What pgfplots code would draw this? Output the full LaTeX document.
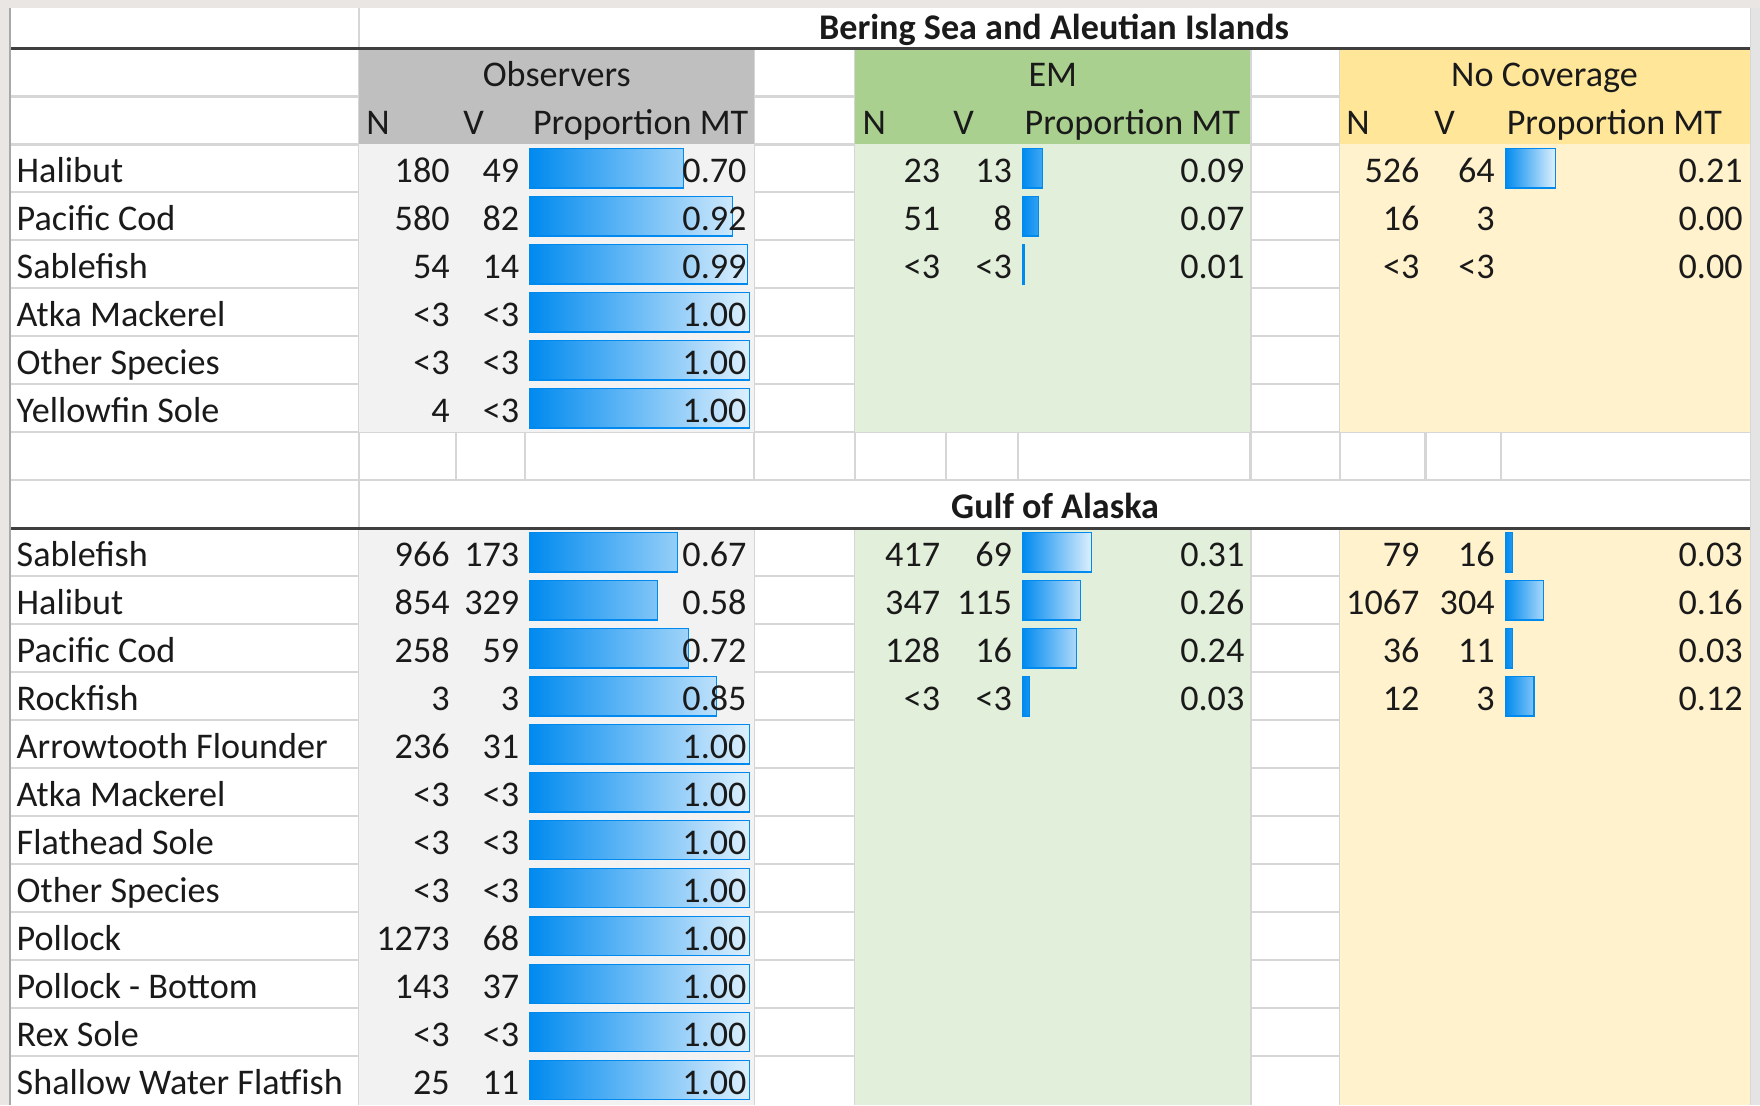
\documentclass[border=0pt]{standalone}
\usepackage{pgfplots}
\pgfplotsset{compat=1.18}
\usepackage{fontspec}
\setmainfont{Carlito}
\definecolor{bgtop}{HTML}{EAE6E3}
\definecolor{bgside}{HTML}{E4E4E4}
\definecolor{obshead}{HTML}{BFBFBF}
\definecolor{obsbody}{HTML}{F2F2F2}
\definecolor{emhead}{HTML}{A9D08E}
\definecolor{embody}{HTML}{E2EFDA}
\definecolor{nchead}{HTML}{FFE699}
\definecolor{ncbody}{HTML}{FFF2CC}
\definecolor{gridc}{HTML}{D6D6D6}
\definecolor{thickc}{HTML}{3F3F3F}
\definecolor{edgec}{HTML}{A8A8A8}
\definecolor{barblue}{HTML}{008AEF}
\definecolor{txt}{HTML}{1A1A1A}

\pgfplotsset{
  sheet/.style={scale only axis, anchor=south west,
    ymin=-1.5088, ymax=21.5088, y dir=reverse, hide axis, clip=false,
    height=492pt},
  bars/.style={xbar, bar width=17.5pt, draw=barblue, line width=0.6pt,
    left color=barblue, right color=barblue!13!white}
}

\newcommand{\Lt}[3]{\node[anchor=base west,inner sep=0pt,yshift=-6.45pt] at (axis cs:#1,#2) {#3};}
\newcommand{\Rt}[3]{\node[anchor=base east,inner sep=0pt,yshift=-6.45pt] at (axis cs:#1,#2) {#3};}
\newcommand{\Obs}[5]{\Lt{14.5}{#1}{#2}\Rt{401}{#1}{#3}\Rt{463}{#1}{#4}\Rt{665.5}{#1}{#5}}
\newcommand{\EMr}[4]{\Rt{838}{#1}{#2}\Rt{902}{#1}{#3}\Rt{1109}{#1}{#4}}
\newcommand{\NCr}[4]{\Rt{1265}{#1}{#2}\Rt{1332}{#1}{#3}\Rt{1553}{#1}{#4}}
\newcommand{\lt}{\textless{}3}

\begin{document}
\fontsize{16.1}{19}\selectfont
\begin{tikzpicture}
% ---------- background, grid and fills ----------
\begin{axis}[sheet, at={(0pt,0pt)}, width=784pt, xmin=0, xmax=1568]
  \fill[bgtop] (axis cs:0,-1.5088) rectangle (axis cs:1568,21.5088);
  \fill[bgside] (axis cs:1559,-1.333) rectangle (axis cs:1568,21.5088);
  \fill[white] (axis cs:9,-1.333) rectangle (axis cs:1559,21.5088);
  \pgfplotsinvokeforeach{-0.5,0.5,...,20.5}{
    \draw[gridc, line width=1pt] (axis cs:9,#1) -- (axis cs:1559,#1);
  }
  \pgfplotsinvokeforeach{406,468,672,762,843,907,1114,1194,1270,1337}{
    \draw[gridc, line width=1pt] (axis cs:#1,-0.5) -- (axis cs:#1,8.5);
    \draw[gridc, line width=1pt] (axis cs:#1,9.5) -- (axis cs:#1,21.51);
  }
  \draw[gridc, line width=1pt] (axis cs:320,-1.333) -- (axis cs:320,21.51);
  % Observers
  \fill[obshead] (axis cs:320,-0.5) rectangle (axis cs:672,1.5);
  \fill[obsbody] (axis cs:320,1.5) rectangle (axis cs:672,7.5);
  \fill[obsbody] (axis cs:320,9.5) rectangle (axis cs:672,21.5088);
  % EM
  \fill[emhead] (axis cs:762,-0.5) rectangle (axis cs:1114,1.5);
  \fill[embody] (axis cs:762,1.5) rectangle (axis cs:1114,7.5);
  \fill[embody] (axis cs:762,9.5) rectangle (axis cs:1114,21.5088);
  % No coverage
  \fill[nchead] (axis cs:1194,-0.5) rectangle (axis cs:1559,1.5);
  \fill[ncbody] (axis cs:1194,1.5) rectangle (axis cs:1559,7.5);
  \fill[ncbody] (axis cs:1194,9.5) rectangle (axis cs:1559,21.5088);
  % thick rules
  \draw[thickc, line width=1.3pt] (axis cs:9,-0.5) -- (axis cs:1559,-0.5);
  \draw[thickc, line width=1.3pt] (axis cs:9,9.5) -- (axis cs:1559,9.5);
  % outer edges
  \draw[edgec, line width=1pt] (axis cs:9,-1.333) -- (axis cs:9,21.51);
  \draw[gridc, line width=0.8pt] (axis cs:1559.5,-1.333) -- (axis cs:1559.5,21.51);
\end{axis}

% ---------- data bars: Observers ----------
\begin{axis}[sheet, at={(236pt,0pt)}, width=98pt, xmin=0, xmax=1]
  \addplot[bars] coordinates {
    (0.70,2) (0.92,3) (0.99,4) (1.00,5) (1.00,6) (1.00,7)
    (0.67,10) (0.58,11) (0.72,12) (0.85,13) (1.00,14) (1.00,15)
    (1.00,16) (1.00,17) (1.00,18) (1.00,19) (1.00,20) (1.00,21)};
\end{axis}
% ---------- data bars: EM ----------
\begin{axis}[sheet, at={(455.5pt,0pt)}, width=99.5pt, xmin=0, xmax=1]
  \addplot[bars] coordinates {
    (0.09,2) (0.07,3) (0.01,4)
    (0.31,10) (0.26,11) (0.24,12) (0.03,13)};
\end{axis}
% ---------- data bars: No Coverage ----------
\begin{axis}[sheet, at={(670.5pt,0pt)}, width=106.5pt, xmin=0, xmax=1]
  \addplot[bars] coordinates {
    (0.21,2)
    (0.03,10) (0.16,11) (0.03,12) (0.12,13)};
\end{axis}

% ---------- text ----------
\begin{axis}[sheet, at={(0pt,0pt)}, width=784pt, xmin=0, xmax=1568]
  \begin{scope}[txt]
  \node[anchor=base, inner sep=0pt, yshift=-6.5pt, font=\bfseries] at (axis cs:939,-1) {Bering Sea and Aleutian Islands};
  \node[anchor=base, inner sep=0pt, yshift=-6.45pt] at (axis cs:496,0) {Observers};
  \node[anchor=base, inner sep=0pt, yshift=-6.45pt] at (axis cs:938,0) {EM};
  \node[anchor=base, inner sep=0pt, yshift=-6.45pt] at (axis cs:1376,0) {No Coverage};
  \Lt{326}{1}{N}\Lt{412.5}{1}{V}\Lt{474.5}{1}{Proportion MT}
  \Lt{768}{1}{N}\Lt{849}{1}{V}\Lt{912.5}{1}{Proportion MT}
  \Lt{1199}{1}{N}\Lt{1277.5}{1}{V}\Lt{1342}{1}{Proportion MT}
  % BSAI
  \Obs{2}{Halibut}{180}{49}{0.70}\EMr{2}{23}{13}{0.09}\NCr{2}{526}{64}{0.21}
  \Obs{3}{Pacific Cod}{580}{82}{0.92}\EMr{3}{51}{8}{0.07}\NCr{3}{16}{3}{0.00}
  \Obs{4}{Sablefish}{54}{14}{0.99}\EMr{4}{\lt}{\lt}{0.01}\NCr{4}{\lt}{\lt}{0.00}
  \Obs{5}{Atka Mackerel}{\lt}{\lt}{1.00}
  \Obs{6}{Other Species}{\lt}{\lt}{1.00}
  \Obs{7}{Yellowfin Sole}{4}{\lt}{1.00}
  % GOA
  \node[anchor=base, inner sep=0pt, yshift=-6.2pt, font=\bfseries] at (axis cs:940,9) {Gulf of Alaska};
  \Obs{10}{Sablefish}{966}{173}{0.67}\EMr{10}{417}{69}{0.31}\NCr{10}{79}{16}{0.03}
  \Obs{11}{Halibut}{854}{329}{0.58}\EMr{11}{347}{115}{0.26}\NCr{11}{1067}{304}{0.16}
  \Obs{12}{Pacific Cod}{258}{59}{0.72}\EMr{12}{128}{16}{0.24}\NCr{12}{36}{11}{0.03}
  \Obs{13}{Rockfish}{3}{3}{0.85}\EMr{13}{\lt}{\lt}{0.03}\NCr{13}{12}{3}{0.12}
  \Obs{14}{Arrowtooth Flounder}{236}{31}{1.00}
  \Obs{15}{Atka Mackerel}{\lt}{\lt}{1.00}
  \Obs{16}{Flathead Sole}{\lt}{\lt}{1.00}
  \Obs{17}{Other Species}{\lt}{\lt}{1.00}
  \Obs{18}{Pollock}{1273}{68}{1.00}
  \Obs{19}{Pollock - Bottom}{143}{37}{1.00}
  \Obs{20}{Rex Sole}{\lt}{\lt}{1.00}
  \Obs{21}{Shallow Water Flatfish}{25}{11}{1.00}
  \end{scope}
\end{axis}
\end{tikzpicture}
\end{document}
